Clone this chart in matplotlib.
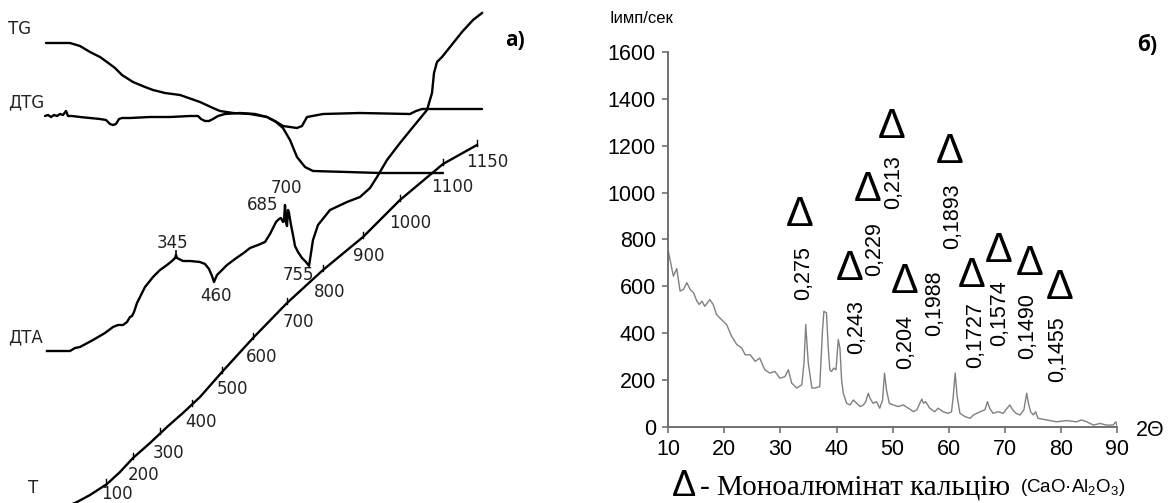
import numpy as np
import matplotlib.pyplot as plt

plt.rcParams['mathtext.fontset'] = 'custom'
plt.rcParams['mathtext.rm'] = 'Liberation Sans'
plt.rcParams['mathtext.it'] = 'Liberation Sans:italic'

# ---------- a) thermogram, traced in image pixel coordinates ----------
tg_x = [46, 70, 80, 90, 100, 107, 115, 122, 133, 145, 153, 165, 180, 200, 213, 220, 233, 250,
        267, 276, 283, 290, 297, 305, 313, 347, 380, 443]
tg_y = [43, 43, 46, 52, 57, 62, 68, 75, 82, 87, 90, 93, 95, 102, 108, 111, 113, 114,
        117, 122, 128, 140, 157, 167, 171, 172, 173, 173]

dtg_x = [45, 48, 51, 54, 57, 60, 63, 66, 68, 72, 80, 90, 100, 106, 110, 113, 116, 119, 122, 130,
         150, 170, 190, 198, 201, 205, 209, 213, 218, 225, 240, 255, 267, 275, 283, 290, 297,
         302, 307, 323, 360, 410, 416, 422, 430, 482]
dtg_y = [116, 115, 117, 115, 116, 114, 115, 111, 116, 116, 117, 118, 119, 120, 124, 125, 124, 119, 118, 118,
         117, 117, 116, 116, 119, 121, 121, 119, 116, 114, 113, 114, 117, 121, 126, 127, 128,
         126, 117, 114, 113, 114, 111, 109, 109, 109]

dta_x = [47, 70, 75, 80, 93, 105, 113, 118, 123, 127, 130, 132, 134, 137, 140, 145, 153, 160, 167, 172,
         175, 176, 177, 183, 190, 200, 205, 209, 212, 214, 217, 222, 227, 235, 245, 250, 258, 265,
         270, 273, 276, 279, 281, 283, 284, 285, 286, 287, 288, 289, 291, 293, 295, 298, 302, 306,
         309, 313, 318, 330, 347, 360, 370, 377, 387, 400, 413, 427, 432, 434, 437, 442, 450, 462,
         473, 482]
dta_y = [351, 351, 348, 347, 340, 333, 327, 325, 325, 322, 317, 316, 312, 303, 297, 287, 277, 270, 265, 261,
         258, 255, 258, 261, 261, 262, 264, 269, 276, 282, 275, 270, 265, 259, 252, 248, 245, 242,
         234, 228, 222, 219, 218, 222, 221, 205, 222, 226, 210, 213, 225, 235, 246, 252, 258, 262,
         266, 240, 225, 210, 202, 197, 188, 177, 160, 143, 127, 110, 93, 73, 62, 57, 47, 32,
         20, 13]

t_x = [70, 77, 90, 107, 120, 133, 150, 167, 184, 200, 222, 253, 287, 323, 363, 400, 443, 477]
t_y = [505, 502, 495, 484, 472, 458, 443, 427, 412, 397, 372, 338, 303, 270, 237, 200, 164, 145]

t_labels = ['100', '200', '300', '400', '500', '600', '700', '800', '900', '1000', '1100', '1150']
t_tick_x = [106, 133, 160, 192, 222, 253, 287, 323, 363, 400, 443, 477]
t_tick_y = [484, 458, 433, 405, 372, 338, 303, 270, 237, 200, 164, 145]
t_lab_x = [117, 144, 168, 201, 232, 262, 298, 330, 369, 410, 452, 487]
t_lab_y = [494, 475, 453, 422, 389, 357, 322, 292, 256, 223, 187, 162]

dta_peaks = ['345', '460', '685', '700', '755']
dta_peak_x = [173, 216, 263, 286, 298]
dta_peak_y = [243, 296, 205, 188, 275]

# ---------- б) XRD pattern ----------
two_theta = [10.0, 10.9, 11.5, 12.1, 12.7, 13.3, 13.9, 14.5, 15.1, 15.5, 16.0, 16.5, 17.4, 18.0, 18.6,
             19.5, 20.4, 21.3, 22.2, 23.1, 23.7, 24.6, 25.5, 26.3, 27.2, 28.1, 29.0, 29.9, 30.8, 31.4,
             32.0, 32.9, 33.8, 34.2, 34.5, 34.95, 35.6, 36.1, 37.0, 37.5, 37.75, 38.2, 38.5, 38.8, 39.1,
             39.5, 39.9, 40.3, 40.6, 40.9, 41.2, 41.8, 42.4, 43.0, 43.6, 44.2, 44.8, 45.2, 45.65, 45.95,
             46.5, 47.1, 47.7, 48.2, 48.55, 48.9, 49.4, 50.1, 51.0, 51.9, 52.8, 53.7, 54.3, 55.2, 55.5,
             55.9, 56.6, 57.5, 58.1, 59.0, 59.9, 60.5, 60.8, 61.15, 61.5, 62.0, 62.9, 63.8, 64.4, 65.6,
             66.45, 66.9, 67.3, 67.9, 68.8, 69.7, 70.4, 70.9, 71.4, 72.0, 72.7, 73.4, 73.9, 74.2, 74.6,
             75.1, 75.5, 75.9, 77.4, 79.2, 81.0, 82.8, 83.7, 84.6, 85.8, 87.0, 88.1, 89.3, 89.8, 90.0]
intensity = [750, 643, 675, 579, 586, 615, 586, 572, 536, 522, 536, 514, 543, 522, 479,
             457, 436, 386, 351, 336, 307, 307, 279, 293, 243, 229, 236, 207, 214, 243,
             186, 165, 179, 273, 436, 273, 165, 165, 171, 414, 493, 486, 343, 243, 236,
             250, 243, 372, 336, 200, 143, 100, 93, 114, 100, 86, 93, 107, 143, 122,
             100, 107, 79, 114, 229, 157, 100, 93, 86, 93, 79, 64, 72, 118, 100,
             107, 79, 64, 79, 64, 57, 64, 129, 229, 129, 57, 43, 36, 50, 64,
             72, 107, 79, 57, 64, 57, 79, 93, 72, 57, 50, 72, 143, 100, 64,
             50, 64, 36, 29, 21, 26, 21, 29, 21, 7, 14, 7, 7, 21, 5]

d_labels = ['0,275', '0,243', '0,229', '0,213', '0,204', '0,1988', '0,1893', '0,1727', '0,1574', '0,1490', '0,1455']
d_lab_x = [34.2, 43.6, 46.7, 50.2, 52.4, 57.4, 60.7, 64.8, 69.1, 74.1, 79.4]
d_lab_y = [658, 427, 757, 1044, 363, 526, 898, 393, 483, 431, 329]
tri_x = [33.4, 42.4, 45.6, 49.9, 52.2, 60.2, 64.1, 68.9, 74.5, 79.8]
tri_y = [903, 672, 1010, 1280, 620, 1173, 645, 752, 693, 594]

fig = plt.figure(figsize=(11.7, 5.03), dpi=100)

# overlay in pixel coordinates for panel a) and free text
ax0 = fig.add_axes([0, 0, 1, 1])
ax0.set_xlim(0, 1170)
ax0.set_ylim(503, 0)
ax0.axis('off')

lw = 1.7
ax0.plot(tg_x, tg_y, color='black', lw=lw, solid_capstyle='round')
ax0.plot(dtg_x, dtg_y, color='black', lw=lw, solid_capstyle='round')
ax0.plot(dta_x, dta_y, color='black', lw=lw, solid_joinstyle='round')
ax0.plot(t_x, t_y, color='black', lw=lw)
for x, y in zip(t_tick_x, t_tick_y):
    ax0.plot([x, x], [y + 1, y - 5], color='black', lw=1.0)
for lab, x, y in zip(t_labels, t_lab_x, t_lab_y):
    ax0.text(x, y, lab, ha='center', va='center', fontsize=12, color='#222222')
for lab, x, y in zip(dta_peaks, dta_peak_x, dta_peak_y):
    ax0.text(x, y, lab, ha='center', va='center', fontsize=12, color='#222222')
ax0.plot([176, 176], [251, 258], color='black', lw=1.2)

ax0.text(8, 29, 'TG', ha='left', va='center', fontsize=12, color='#222222')
ax0.text(8, 102, 'ДТG', ha='left', va='center', fontsize=12, color='#222222')
ax0.text(8, 337, 'ДТА', ha='left', va='center', fontsize=12, color='#222222')
ax0.text(33, 488, 'T', ha='center', va='center', fontsize=12, color='#222222')
ax0.text(515, 40, 'а)', ha='center', va='center', fontsize=15, fontweight='bold', family='Open Sans')
ax0.text(1147, 45, 'б)', ha='center', va='center', fontsize=15, fontweight='bold', family='Open Sans')

# caption of panel б)
ax0.text(684, 487, 'Δ', ha='center', va='center', fontsize=26, family='Liberation Sans')
ax0.text(700, 487, '- Моноалюмінат кальцію', ha='left', va='center', fontsize=21, family='Liberation Serif')
ax0.text(1020, 488, '(CaO·Al$_2$O$_3$)', ha='left', va='center', fontsize=13.5, family='Liberation Sans')

# ---------- panel б) axes ----------
ax = fig.add_axes([668.3 / 1170, 76.3 / 503, 448.7 / 1170, 374.7 / 503])
ax.patch.set_alpha(0)
ax.plot(two_theta, intensity, color='#808080', lw=1.0)
ax.set_xlim(10, 90)
ax.set_ylim(0, 1600)
ax.set_xticks(np.arange(10, 91, 10))
ax.set_yticks(np.arange(0, 1601, 200))
for s in ['top', 'right']:
    ax.spines[s].set_visible(False)
for s in ['left', 'bottom']:
    ax.spines[s].set_color('#707070')
    ax.spines[s].set_linewidth(1.4)
ax.tick_params(length=4, width=1.2, color='#707070', labelsize=15.5, pad=5)
for t in ax.get_xticklabels() + ax.get_yticklabels():
    t.set_family('Liberation Sans')

for lab, x, y in zip(d_labels, d_lab_x, d_lab_y):
    ax.text(x, y, lab, rotation=90, ha='center', va='center', fontsize=15.5,
            family='Liberation Sans', clip_on=False)
for x, y in zip(tri_x, tri_y):
    ax.text(x, y, 'Δ', ha='center', va='center', fontsize=30, family='Liberation Sans', clip_on=False)

ax0.text(641, 18, 'Iимп/сек', ha='center', va='center', fontsize=12, family='Liberation Sans')
ax0.text(1150, 430, '2Θ', ha='center', va='center', fontsize=15.5, family='Liberation Sans')

fig.savefig('out.png', dpi=100)
